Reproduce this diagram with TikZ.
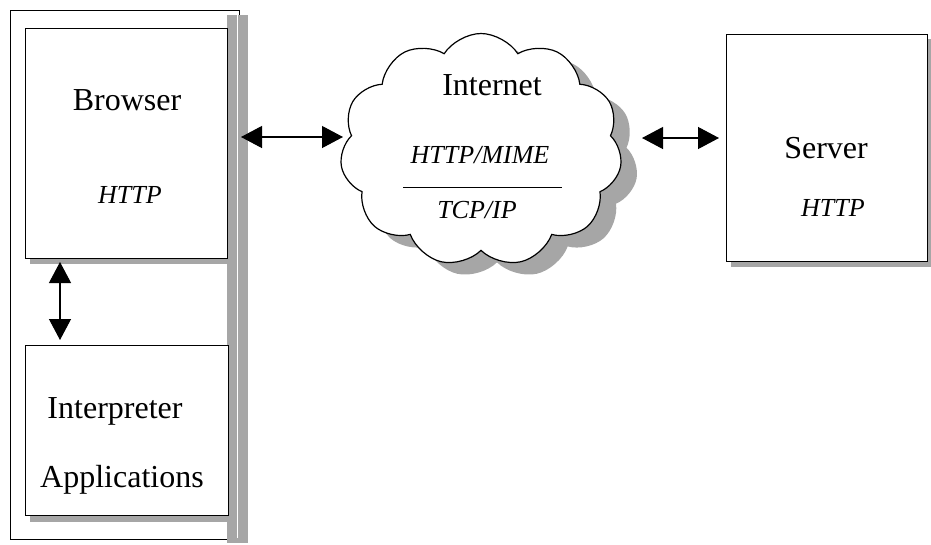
\documentclass[tikz,border=0pt]{standalone}
\usepackage{fontspec}
\setmainfont{Liberation Serif}
\usetikzlibrary{shapes.symbols,arrows.meta}

\begin{document}
\begin{tikzpicture}[x=1pt,y=-1pt,
  shadowfill/.style={fill=black!35,draw=none},
  panel/.style={draw=black,line width=1.2pt,fill=white,anchor=north west,inner sep=0pt},
  lbl/.style={font=\fontsize{32}{34}\selectfont,inner sep=0pt},
  proto/.style={font=\itshape\fontsize{26}{28}\selectfont,inner sep=0pt},
  link/.style={line width=1.2pt,{Triangle[length=21pt,width=22pt]}-{Triangle[length=21pt,width=22pt]}},
  puffy/.style={cloud,cloud puffs=11,cloud puff arc=115,aspect=1.2,
    minimum width=282pt,minimum height=233pt,inner sep=0pt},
]
\useasboundingbox (0,0) rectangle (931,544);

% client side: outer frame, its shadow band and the inner rim
\node[panel,line width=1pt,minimum width=229pt,minimum height=529pt] (outer) at (10,10) {};
\fill[shadowfill] (227,15) rectangle (248,543);
\draw[white,line width=1pt] (237.5,15) -- (237.5,538);

% browser and interpreter panels with drop shadows
\fill[shadowfill] (30,258) rectangle (232,264);
\node[panel,minimum width=202pt,minimum height=230pt] (browser) at (25,28) {};
\fill[shadowfill] (30,515) rectangle (232,522);
\node[panel,minimum width=203pt,minimum height=170pt] (interp) at (25,345) {};

% server panel
\fill[shadowfill] (731,39) rectangle (931,267);
\node[panel,minimum width=201pt,minimum height=227pt] (server) at (726,34) {};

% internet cloud with shadow
\node[puffy,shadowfill] (cloudshadow) at (497,162) {};
\node[puffy,draw=black,line width=1.2pt,fill=white] (cloud) at (481,150) {};

% labels
\node[lbl] (tbrowser) at (127,100) {Browser};
\node[proto] (tbhttp) at (130,195) {HTTP};
\node[lbl] (tinterp) at (115,411) {Interpreter};
\node[lbl] (tapps) at (122,480) {Applications};
\node[lbl] (tnet) at (492,85) {Internet};
\node[proto] (tmime) at (480,155) {HTTP/MIME};
\node[proto] (ttcp) at (477,210) {TCP/IP};
\node[lbl] (tserver) at (826,148) {Server};
\node[proto] (tshttp) at (833,208) {HTTP};
\coordinate (ruleL) at (403,187);
\coordinate (ruleR) at (562,187);
\draw[line width=1pt] (ruleL) -- (ruleR);

% connectors
\coordinate (bport) at (241,137);
\coordinate (cin) at (343,137);
\coordinate (cout) at (642,138);
\coordinate (sport) at (719,138);
\coordinate (bdown) at (60,262);
\coordinate (iup) at (60,340);
\draw[link] (bport) -- (cin);
\draw[link] (cout) -- (sport);
\draw[link] (bdown) -- (iup);
\end{tikzpicture}
\end{document}
